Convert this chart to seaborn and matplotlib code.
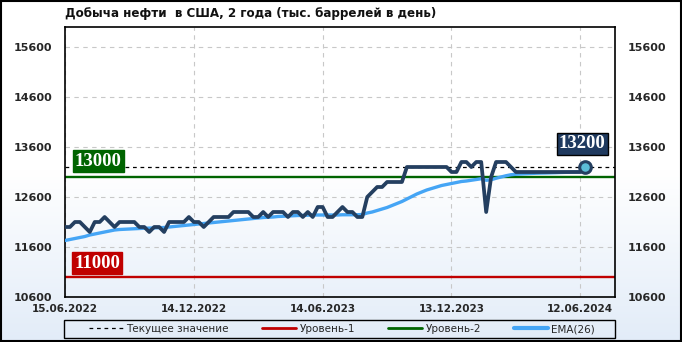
import numpy as np
import pandas as pd
import matplotlib
matplotlib.use("Agg")
import matplotlib.pyplot as plt
import seaborn as sns
from matplotlib.colors import LinearSegmentedColormap
from matplotlib.lines import Line2D
from matplotlib.patches import Rectangle

title = "Добыча нефти  в США, 2 года (тыс. баррелей в день)"

production = [
    12000, 12000, 12100, 12100, 12000, 11900, 12100, 12100, 12200, 12100,
    12000, 12100, 12100, 12100, 12100, 12000, 12000, 11900, 12000, 12000,
    11900, 12100, 12100, 12100, 12100, 12200, 12100, 12100, 12000, 12100,
    12200, 12200, 12200, 12200, 12300, 12300, 12300, 12300, 12200, 12200,
    12300, 12200, 12300, 12300, 12300, 12200, 12300, 12300, 12200, 12300,
    12200, 12400, 12400, 12200, 12200, 12300, 12400, 12300, 12300, 12200,
    12200, 12600, 12700, 12800, 12800, 12900, 12900, 12900, 12900, 13200,
    13200, 13200, 13200, 13200, 13200, 13200, 13200, 13200, 13100, 13100,
    13300, 13300, 13200, 13300, 13300, 12300, 13000, 13300, 13300, 13300,
    13200, 13100, 13100, 13100, 13100, 13100, 13100, 13100, 13100, 13100,
    13100, 13100, 13100, 13100, 13100, 13200,
]

ema26 = [
    11730, 11750, 11770, 11790, 11810, 11840, 11860, 11880, 11900, 11920,
    11940, 11950, 11955, 11960, 11965, 11970, 11975, 11978, 11982, 11986,
    11990, 12000, 12010, 12020, 12030, 12040, 12050, 12060, 12070, 12080,
    12090, 12100, 12110, 12120, 12130, 12140, 12150, 12160, 12170, 12180,
    12190, 12195, 12200, 12210, 12215, 12220, 12225, 12230, 12232, 12236,
    12240, 12240, 12240, 12240, 12240, 12240, 12245, 12245, 12245, 12245,
    12250, 12280, 12300, 12330, 12360, 12390, 12430, 12470, 12510, 12560,
    12610, 12660, 12700, 12740, 12770, 12800, 12830, 12850, 12870, 12890,
    12910, 12920, 12935, 12950, 12965, 12935, 12945, 12975, 13000, 13025,
    13045, 13055, 13060, 13065, 13070, 13075, 13078, 13080, 13083, 13086,
    13090, 13093, 13096, 13100, 13103, 13120,
]

level1 = 11000
level2 = 13000
tick_weeks = [0, 26, 52, 78, 104]
tick_labels = ["15.06.2022", "14.12.2022", "14.06.2023", "13.12.2023", "12.06.2024"]
y_ticks = [10600, 11600, 12600, 13600, 14600, 15600]
legend_labels = ["Текущее значение", "Уровень-1", "Уровень-2", "EMA(26)"]

c_data = "#243f60"
c_ema = "#45a5f5"
c_red = "#c00000"
c_green = "#006400"

sns.set_theme(style="white")
plt.rcParams["font.family"] = ["DejaVu Sans"]

df = pd.DataFrame({"week": np.arange(len(production)),
                   "production": production,
                   "ema": ema26})
current = production[-1]
last_week = df["week"].iloc[-1]

fig = plt.figure(figsize=(6.82, 3.42), dpi=100)

# background gradient
bg = fig.add_axes([0, 0, 1, 1], zorder=-10)
grad = np.linspace(0, 1, 256).reshape(-1, 1)
cmap = LinearSegmentedColormap.from_list(
    "bg", [(0, "#e2ecf8"), (0.5, "#ffffff"), (1, "#ffffff")])
bg.imshow(grad, aspect="auto", cmap=cmap, extent=[0, 1, 0, 1], origin="lower")
bg.set_axis_off()

W, H = 682, 342
ax = fig.add_axes([65 / W, 1 - 297 / H, 550 / W, 270 / H])
ax.set_facecolor("none")

ax.axhline(current, color="black", ls=(0, (3, 3)), lw=0.9, zorder=2)
ax.axhline(level1, color=c_red, lw=1.7, zorder=2)
ax.axhline(level2, color=c_green, lw=1.7, zorder=2)

sns.lineplot(data=df, x="week", y="ema", color=c_ema, lw=2.4, ax=ax, zorder=3)
sns.lineplot(data=df, x="week", y="production", color=c_data, lw=2.7, ax=ax, zorder=4)
sns.scatterplot(x=[last_week], y=[current], s=70, color="#5bbcd6",
                edgecolor=c_data, linewidth=2.2, ax=ax, zorder=6)

ax.set_xlim(0, 111)
ax.set_ylim(10600, 16000)
ax.set_xticks(tick_weeks, tick_labels)
ax.set_yticks(y_ticks, [str(v) for v in y_ticks])
ax.set_xlabel("")
ax.set_ylabel("")
ax.grid(True, color="#c8c8c8", ls=(0, (4, 4)), lw=0.8)
ax.set_axisbelow(True)
ax.tick_params(axis="y", length=0, labelsize=8, pad=9, labelright=True)
ax.tick_params(axis="x", length=0, labelsize=7.5, pad=5)
for lbl in ax.get_xticklabels() + ax.get_yticklabels():
    lbl.set_fontweight("bold")
for t in ax.yaxis.get_major_ticks():
    t.label2.set_fontweight("bold")
for s in ax.spines.values():
    s.set_color("black")
    s.set_linewidth(1.2)

# value labels
ax.annotate(f"{level2}", xy=(0, level2), xycoords=("axes fraction", "data"),
            xytext=(10, 16), textcoords="offset pixels", ha="left", va="center",
            color="white", fontsize=13.5, fontweight="bold", family="Liberation Serif",
            bbox=dict(boxstyle="square,pad=0.12", fc=c_green, ec=c_green), zorder=7)
ax.annotate(f"{level1}", xy=(0, level1), xycoords=("axes fraction", "data"),
            xytext=(9, 14), textcoords="offset pixels", ha="left", va="center",
            color="white", fontsize=13.5, fontweight="bold", family="Liberation Serif",
            bbox=dict(boxstyle="square,pad=0.12", fc=c_red, ec=c_red), zorder=7)
ax.annotate(f"{current}", xy=(last_week, current), xycoords="data",
            xytext=(-3, 23), textcoords="offset pixels", ha="center", va="center",
            color="white", fontsize=13.5, fontweight="bold", family="Liberation Serif",
            bbox=dict(boxstyle="square,pad=0.12", fc="#1f3a5f", ec="black", lw=1), zorder=7)

# title
fig.text(65 / W, 1 - 13 / H, title, fontsize=8.6, fontweight="bold",
         ha="left", va="center", color="#111111")

# legend
handles = [
    Line2D([], [], color="black", ls=(0, (3, 3)), lw=0.9),
    Line2D([], [], color=c_red, lw=2),
    Line2D([], [], color=c_green, lw=2),
    Line2D([], [], color=c_ema, lw=3),
]
fig.legend(handles, legend_labels, loc="center",
           bbox_to_anchor=(89 / W, 1 - 338 / H, (595 - 89) / W, 18 / H),
           mode="expand", ncol=4, frameon=False, fontsize=7.5,
           handlelength=3.3, handletextpad=0.3, borderpad=0, borderaxespad=0)
fig.patches.append(Rectangle((64 / W, 1 - 338 / H), 551 / W, 18 / H,
                             transform=fig.transFigure, fill=False, ec="black", lw=1))
fig.patches.append(Rectangle((0.001, 0.002), 0.997, 0.995, transform=fig.transFigure,
                             fill=False, ec="black", lw=1.5))

fig.savefig("out.png", dpi=100)
